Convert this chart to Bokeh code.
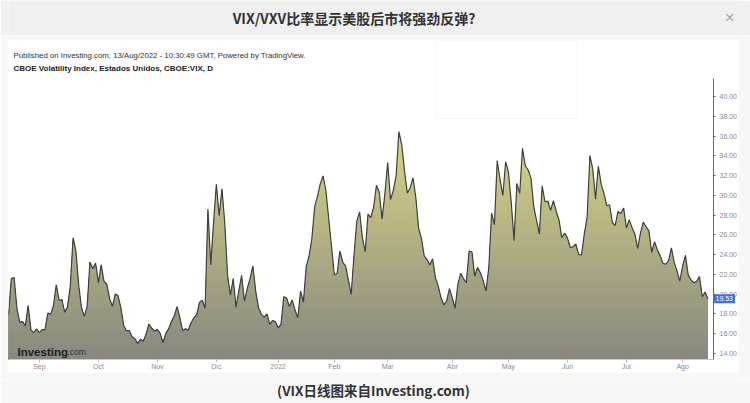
import numpy as np
from bokeh.plotting import figure
from bokeh.layouts import column
from bokeh.models import (Range1d, FixedTicker, SingleIntervalTicker, PrintfTickFormatter,
                          Label, BoxAnnotation)
from bokeh.embed import file_html
from bokeh.resources import INLINE

# ---------------- data (VIX daily closes) ----------------
aug21 = [17.91, 21.57, 21.67, 18.56, 17.15, 17.22, 16.79, 18.84, 16.39, 16.11, 16.48]
sep21 = [16.11, 16.41, 16.41, 18.08, 17.96, 18.80, 20.95, 19.37, 19.46, 18.18, 18.69,
         20.81, 25.71, 24.36, 20.87, 18.63, 17.75, 18.76, 23.25, 22.56, 23.14]
oct21 = [21.15, 22.96, 21.30, 21.00, 19.54, 18.77, 20.00, 19.85, 18.64, 16.86, 16.30,
         16.30, 15.70, 15.49, 15.01, 15.43, 15.24, 15.98, 16.98, 16.53, 16.26]
nov21 = [16.41, 16.03, 15.10, 16.03, 16.48, 17.22, 17.78, 18.73, 17.66, 16.29, 16.49,
         16.37, 17.11, 17.59, 17.91, 19.17, 19.38, 18.58, 28.62, 22.96, 27.19]
dec21 = [31.12, 27.95, 30.67, 27.18, 21.89, 19.90, 21.58, 18.69, 20.31, 21.89, 19.29,
         20.57, 21.57, 22.87, 20.31, 18.63, 17.96, 17.68, 18.00, 16.95, 17.33, 17.22]
jan22 = [16.60, 16.91, 19.73, 19.61, 18.76, 19.40, 18.41, 17.62, 20.31, 19.19, 22.79,
         23.85, 25.59, 28.85, 29.90, 31.16, 31.96, 30.49, 27.66, 24.83]
feb22 = [21.96, 22.09, 24.35, 23.22, 22.86, 21.44, 19.96, 23.91, 27.36, 28.33, 25.70,
         24.29, 28.11, 27.75, 28.81, 31.02, 30.32, 27.59, 30.15]
mar22 = [33.32, 29.57, 30.48, 31.98, 36.45, 35.13, 32.45, 30.23, 30.75, 31.77, 29.83,
         26.67, 25.67, 23.87, 23.53, 22.94, 23.57, 21.67, 20.81, 19.63, 18.90, 19.33, 20.56]
apr22 = [19.63, 18.57, 21.03, 22.10, 21.55, 21.16, 24.37, 24.26, 21.82, 22.70, 22.17,
         21.37, 20.32, 22.68, 28.21, 27.02, 33.52, 31.60, 29.99, 33.40]
may22 = [32.34, 29.25, 25.42, 31.20, 30.19, 34.75, 32.99, 32.56, 31.77, 28.87, 27.47,
         26.10, 30.96, 29.35, 29.43, 28.48, 29.45, 28.37, 27.50, 25.72, 26.19]
jun22 = [25.69, 24.72, 24.79, 25.07, 24.02, 23.96, 26.09, 27.75, 34.02, 32.69, 29.62,
         32.95, 31.13, 30.19, 28.95, 29.05, 27.23, 26.95, 28.36, 28.16, 28.71]
jul22 = [26.70, 27.54, 26.73, 26.08, 24.64, 26.17, 27.29, 26.82, 26.40, 24.23, 25.30,
         24.50, 23.88, 23.11, 23.03, 23.36, 24.69, 23.24, 22.33, 21.33]
aug22 = [22.84, 23.93, 21.95, 21.44, 21.15, 21.29, 21.77, 19.74, 20.20, 19.53]

month_labels = ["Sep", "Oct", "Nov", "Dic", "2022", "Feb", "Mar", "Abr", "May", "Jun", "Jul", "Ago"]

title_text = "VIX/VXV比率显示美股后市将强劲反弹?"
caption_text = "(VIX日线图来自Investing.com)"
published_text = "Published on Investing.com, 13/Aug/2022 - 10:30:49 GMT, Powered by TradingView."
symbol_text = "CBOE Volatility Index, Estados Unidos, CBOE:VIX, D"

# ---------------- derived ----------------
months = [aug21, sep21, oct21, nov21, dec21, jan22, feb22, mar22, apr22, may22, jun22, jul22, aug22]
vix = np.concatenate([np.array(m, dtype=float) for m in months])
n = len(vix)
xs = np.arange(n)
month_starts = [int(v) for v in np.cumsum([len(m) for m in months])[:-1]]

W = 750
CJK = "Noto Sans CJK SC"
LAT = "Liberation Sans"
PAGE_BG = "#f7f7f7"

# ---------------- header ----------------
head = figure(width=W, height=35, x_range=Range1d(0, W), y_range=Range1d(0, 35),
              x_axis_type=None, y_axis_type=None, output_backend="svg",
              toolbar_location=None, min_border=0,
              background_fill_color="#f0f0f0", border_fill_color="#f0f0f0",
              outline_line_color=None)
head.grid.visible = False
head.add_layout(Label(x=355, y=18, text=title_text, text_align="center", text_baseline="middle",
                      text_font=CJK, text_font_style="bold", text_font_size="14px",
                      text_color="#333333"))
head.add_layout(Label(x=741, y=18, text="×", text_align="center", text_baseline="middle",
                      text_font=LAT, text_font_size="17px", text_color="#a8a8a8"))

# ---------------- main chart ----------------
# frame = the white chart image (x 8..738, y 40..372); axes are pinned inside it
y_base, y_axis_top = 13.38, 41.82          # value extent covered by the price axis
y_lo, y_hi = 12.07, 45.67                  # full frame extent
x_axis_pos = n + 1                         # price axis sits one bar after the last close
x_hi = x_axis_pos * 730 / 705

p = figure(width=W, height=345, x_range=Range1d(0, x_hi), y_range=Range1d(y_lo, y_hi),
           y_axis_location="right", output_backend="svg", toolbar_location=None,
           min_border_left=8, min_border_right=12, min_border_top=5, min_border_bottom=8,
           background_fill_color="white", border_fill_color=PAGE_BG, outline_line_color=None)
p.xgrid.visible = False
p.ygrid.visible = False

# gradient fill (khaki at top -> grey at bottom), drawn as stacked layers
c_bot = np.array([136, 136, 128])
c_top = np.array([216, 214, 134])
top_v = float(vix.max())
edges = np.linspace(y_base, top_v, 60)
for k in range(len(edges) - 2, -1, -1):
    t = ((edges[k] + edges[k + 1]) / 2 - y_base) / (top_v - y_base)
    c = (c_bot + (c_top - c_bot) * t).astype(int)
    col = "#%02x%02x%02x" % tuple(c)
    upper = vix if k == len(edges) - 2 else np.minimum(vix, edges[k + 1])
    p.varea(x=xs, y1=np.full(n, y_base), y2=upper, fill_color=col)

p.line(xs, vix, line_color="#404040", line_width=1.2)

# right price axis
yax = p.yaxis[0]
yax.fixed_location = x_axis_pos
yax.bounds = (y_base, y_axis_top)
yax.ticker = SingleIntervalTicker(interval=2)
yax.formatter = PrintfTickFormatter(format="%.2f")
yax.major_label_text_font = LAT
yax.major_label_text_font_size = "7px"
yax.major_label_text_color = "#8a8a8a"
yax.axis_line_color = "#666666"
yax.major_tick_line_color = "#666666"
yax.major_tick_out = 2
yax.major_tick_in = 0
yax.minor_tick_line_color = None
yax.major_label_standoff = 2

# bottom time axis
xax = p.xaxis[0]
xax.fixed_location = y_base
xax.bounds = (0, x_axis_pos)
xax.ticker = FixedTicker(ticks=month_starts)
xax.major_label_overrides = {s: lab for s, lab in zip(month_starts, month_labels)}
xax.major_label_text_font = LAT
xax.major_label_text_font_size = "7px"
xax.major_label_text_color = "#8a8a8a"
xax.axis_line_color = "#c8c8c8"
xax.major_tick_line_color = "#bdbdbd"
xax.major_tick_out = 3
xax.major_tick_in = 0
xax.minor_tick_line_color = None
xax.major_label_standoff = 0

# chart-image header texts
p.add_layout(Label(x=5, y=317, x_units="screen", y_units="screen", text=published_text,
                   text_font=LAT, text_font_size="7.8px", text_color="#333333",
                   text_baseline="middle"))
p.add_layout(Label(x=5, y=304, x_units="screen", y_units="screen", text=symbol_text,
                   text_font=LAT, text_font_style="bold", text_font_size="8px",
                   text_color="#222222", text_baseline="middle"))

# placeholder box (broken image overlay)
p.add_layout(BoxAnnotation(left=428, right=569, top=332, bottom=254,
                           left_units="screen", right_units="screen",
                           top_units="screen", bottom_units="screen",
                           fill_color="white", fill_alpha=1.0,
                           line_color="#e6e6e6", line_width=1, level="overlay"))

# watermark
p.add_layout(Label(x=9, y=21, x_units="screen", y_units="screen", text="Investing",
                   text_font=LAT, text_font_style="bold", text_font_size="11.5px",
                   text_color="#1e1e1e", text_baseline="alphabetic"))
p.add_layout(Label(x=59, y=21, x_units="screen", y_units="screen", text=".com",
                   text_font=LAT, text_font_size="8.5px",
                   text_color="#333333", text_baseline="alphabetic"))

# last price tag
p.add_layout(Label(x=x_axis_pos, y=float(vix[-1]), text="%.2f" % vix[-1],
                   text_font=LAT, text_font_size="7px", text_color="white",
                   text_baseline="middle", text_align="left", x_offset=0,
                   background_fill_color="#3f72d9", padding=2))

# ---------------- caption ----------------
cap = figure(width=W, height=23, x_range=Range1d(0, W), y_range=Range1d(0, 23),
             x_axis_type=None, y_axis_type=None, output_backend="svg",
             toolbar_location=None, min_border=0,
             background_fill_color=PAGE_BG, border_fill_color=PAGE_BG,
             outline_line_color=None)
cap.grid.visible = False
cap.add_layout(Label(x=375, y=14, text=caption_text, text_align="center", text_baseline="middle",
                     text_font=CJK, text_font_style="bold", text_font_size="13.5px",
                     text_color="#333333"))

layout = column(head, p, cap, spacing=0)
open("out.html", "w").write(file_html(layout, INLINE))
